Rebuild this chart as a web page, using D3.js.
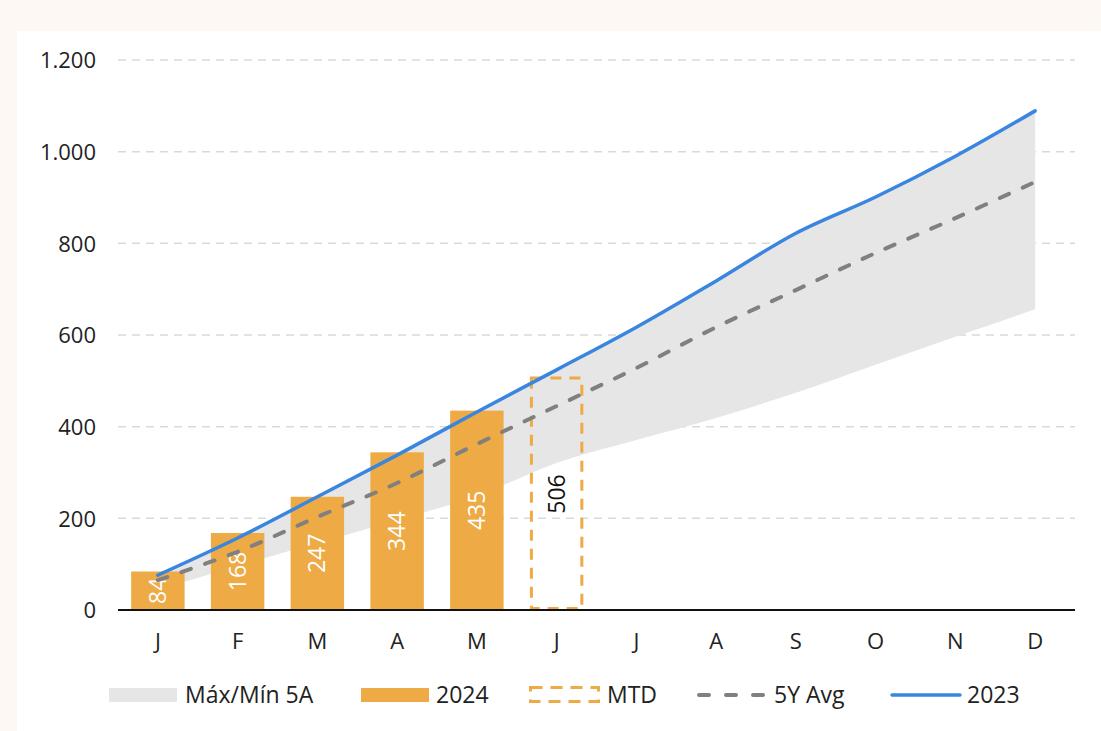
<!DOCTYPE html>
<html><head><meta charset="utf-8">
<script src="https://cdn.jsdelivr.net/npm/d3@7"></script>
<style>
html,body{margin:0;padding:0;background:#fdf8f4;}
svg{display:block;font-family:"Open Sans","Noto Sans",sans-serif;}
</style></head>
<body><svg id="c" width="1101" height="731"></svg>
<script>
const months = ["J","F","M","A","M","J","J","A","S","O","N","D"];
const bars2024 = [84,168,247,344,435];
const mtdValue = 506;
const mtdIndex = 5;
const line2023 = [76,157,247,338,432,524,617,718,822,901,990,1089];
const avg5y = [65,127,203,277,362,445,528,617,698,779,855,934];
const max5y = [76,157,247,338,432,524,617,718,822,901,990,1089];
const min5y = [44,96,146,196,249,321,371,419,474,535,596,656];
const yTicks = [0,200,400,600,800,1000,1200];
const legendLabels = ["Máx/Mín 5A","2024","MTD","5Y Avg","2023"];

const svg = d3.select("#c");
svg.append("rect").attr("x",17).attr("y",31).attr("width",1084).attr("height",700).attr("fill","#ffffff");

const x = d3.scaleBand().domain(d3.range(12)).range([118,1075]).paddingInner(0.33).paddingOuter(0.165);
const xc = i => x(i) + x.bandwidth()/2;
const y = d3.scaleLinear().domain([0,1200]).range([610,60]);
const fmt = v => d3.format(",")(v).replace(/,/g,".");

// grid
svg.append("g").selectAll("line").data(yTicks.filter(d=>d>0)).join("line")
  .attr("x1",118).attr("x2",1075).attr("y1",d=>y(d)).attr("y2",d=>y(d))
  .attr("stroke","#d9d9d9").attr("stroke-width",1.5).attr("stroke-dasharray","8,6");

// y axis labels
const yAxis = d3.axisLeft(y).tickValues(yTicks).tickFormat(fmt).tickSize(0).tickPadding(0);
const ya = svg.append("g").attr("transform","translate(96,0)").call(yAxis);
ya.select(".domain").remove();
ya.selectAll("text").attr("font-size",22).attr("fill","#222").attr("font-family","Open Sans, sans-serif").attr("dy","0.35em");

// band
const curve = d3.curveCatmullRom.alpha(0.5);
const area = d3.area().x((d,i)=>xc(i)).y0((d,i)=>y(min5y[i])).y1(d=>y(d)).curve(curve);
svg.append("path").datum(max5y).attr("d",area).attr("fill","#e6e6e6");

// bars
svg.append("g").selectAll("rect").data(bars2024).join("rect")
  .attr("x",(d,i)=>x(i)).attr("width",x.bandwidth()).attr("y",d=>y(d)).attr("height",d=>y(0)-y(d))
  .attr("fill","#edaa45");
svg.append("g").selectAll("text").data(bars2024).join("text")
  .attr("transform",(d,i)=>`translate(${xc(i)},${(y(d)+y(0))/2}) rotate(-90)`)
  .attr("text-anchor","middle").attr("dy","0.35em").attr("font-size",23).attr("fill","#fff").text(d=>d);

// MTD
svg.append("rect").attr("x",x(mtdIndex)+1.5).attr("width",x.bandwidth()-3).attr("y",y(mtdValue)).attr("height",y(0)-y(mtdValue)-1.5)
  .attr("fill","none").attr("stroke","#edaa45").attr("stroke-width",3).attr("stroke-dasharray","11,8");
svg.append("text").attr("transform",`translate(${xc(mtdIndex)},${(y(mtdValue)+y(0))/2}) rotate(-90)`)
  .attr("text-anchor","middle").attr("dy","0.35em").attr("font-size",23).attr("fill","#111").text(mtdValue);

// lines
const line = d3.line().x((d,i)=>xc(i)).y(d=>y(d)).curve(curve);
svg.append("path").datum(avg5y).attr("d",line).attr("fill","none").attr("stroke","#808080").attr("stroke-width",4).attr("stroke-dasharray","10,15").attr("stroke-linecap","round");
svg.append("path").datum(line2023).attr("d",line).attr("fill","none").attr("stroke","#3a86df").attr("stroke-width",3.5).attr("stroke-linecap","round");

// x axis
svg.append("line").attr("x1",118).attr("x2",1075).attr("y1",y(0)).attr("y2",y(0)).attr("stroke","#111").attr("stroke-width",2);
svg.append("g").selectAll("text").data(months).join("text")
  .attr("x",(d,i)=>xc(i)).attr("y",641).attr("dy","0.35em").attr("text-anchor","middle")
  .attr("font-size",22).attr("fill","#222").text(d=>d);

// legend
const lg = svg.append("g");
const ly = 695;
lg.append("rect").attr("x",109).attr("y",688).attr("width",68).attr("height",14).attr("fill","#e6e6e6");
lg.append("rect").attr("x",361).attr("y",688).attr("width",68).attr("height",14).attr("fill","#edaa45");
lg.append("rect").attr("x",530.5).attr("y",687.5).attr("width",68).attr("height",14).attr("fill","none").attr("stroke","#edaa45").attr("stroke-width",3).attr("stroke-dasharray","12,8");
lg.append("line").attr("x1",699).attr("x2",765).attr("y1",ly).attr("y2",ly).attr("stroke","#808080").attr("stroke-width",4).attr("stroke-dasharray","10,17").attr("stroke-linecap","round");
lg.append("line").attr("x1",892).attr("x2",960).attr("y1",ly).attr("y2",ly).attr("stroke","#3a86df").attr("stroke-width",3.5).attr("stroke-linecap","round");
const lx = [185,436,607,774,967];
lg.selectAll("text").data(legendLabels).join("text")
  .attr("x",(d,i)=>lx[i]).attr("y",ly).attr("dy","0.35em").attr("font-size",23).attr("fill","#222").text(d=>d);
</script></body></html>
